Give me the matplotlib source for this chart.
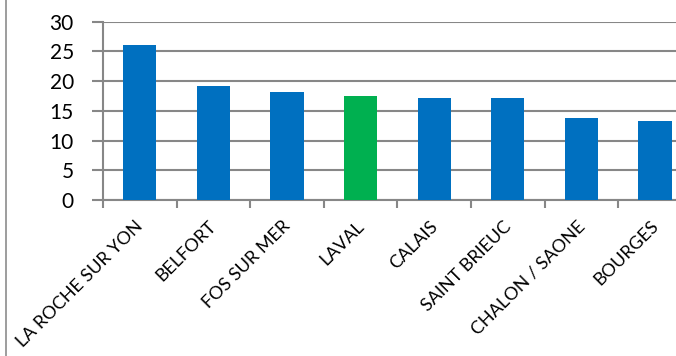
import matplotlib
matplotlib.use("Agg")
import matplotlib.pyplot as plt
import matplotlib.transforms as mtransforms
from matplotlib.lines import Line2D

# Donnees du graphique
villes = ["LA ROCHE SUR YON", "BELFORT", "FOS SUR MER", "LAVAL", "CALAIS",
          "SAINT BRIEUC", "CHALON / SAONE", "BOURGES"]
valeurs = [26.0, 19.2, 18.2, 17.5, 17.1, 17.1, 13.7, 13.3]
couleurs = ["#0070C0", "#0070C0", "#0070C0", "#00B050", "#0070C0",
            "#0070C0", "#0070C0", "#0070C0"]
yticks = [0, 5, 10, 15, 20, 25, 30]

plt.rcParams['font.family'] = ['Lato', 'DejaVu Sans']

fig = plt.figure(figsize=(6.76, 3.56), dpi=100)
ax = fig.add_axes([0.1524, 0.4382, 0.871, 0.5014])

x = list(range(len(villes)))
ax.bar(x, valeurs, width=0.45, color=couleurs, zorder=3)

grille = "#878787"
ax.set_ylim(0, 30)
ax.set_yticks(yticks)
ax.set_yticklabels([str(v) for v in yticks], fontsize=15)
ax.yaxis.grid(True, color=grille, linewidth=1.5, zorder=0)
ax.set_xlim(-0.5, len(villes) - 0.5)

# petits traits entre les categories
ax.set_xticks([i - 0.5 for i in range(len(villes))])
ax.set_xticklabels([])
ax.set_xticks(x, minor=True)
ax.set_xticklabels(villes, minor=True, rotation=45, ha='right', va='top',
                   rotation_mode='anchor', fontsize=13)
ax.tick_params(axis='x', which='minor', length=0, pad=13)
ax.tick_params(axis='x', which='major', length=6, width=1.5, color=grille)
ax.tick_params(axis='y', length=8, width=1.5, color=grille, pad=13)

# decalage des etiquettes vers la gauche
decal = mtransforms.ScaledTranslation(-5 / 100, 0, fig.dpi_scale_trans)
for lab in ax.get_xticklabels(minor=True):
    lab.set_transform(lab.get_transform() + decal)

for s in ['top', 'right']:
    ax.spines[s].set_visible(False)
for s in ['left', 'bottom']:
    ax.spines[s].set_color(grille)
    ax.spines[s].set_linewidth(1.5)

# bord du cadre a gauche
fig.add_artist(Line2D([5.5 / 676, 5.5 / 676], [0, 1], color="#8c8c8c", linewidth=1.2))

fig.savefig("out.png", dpi=100)
